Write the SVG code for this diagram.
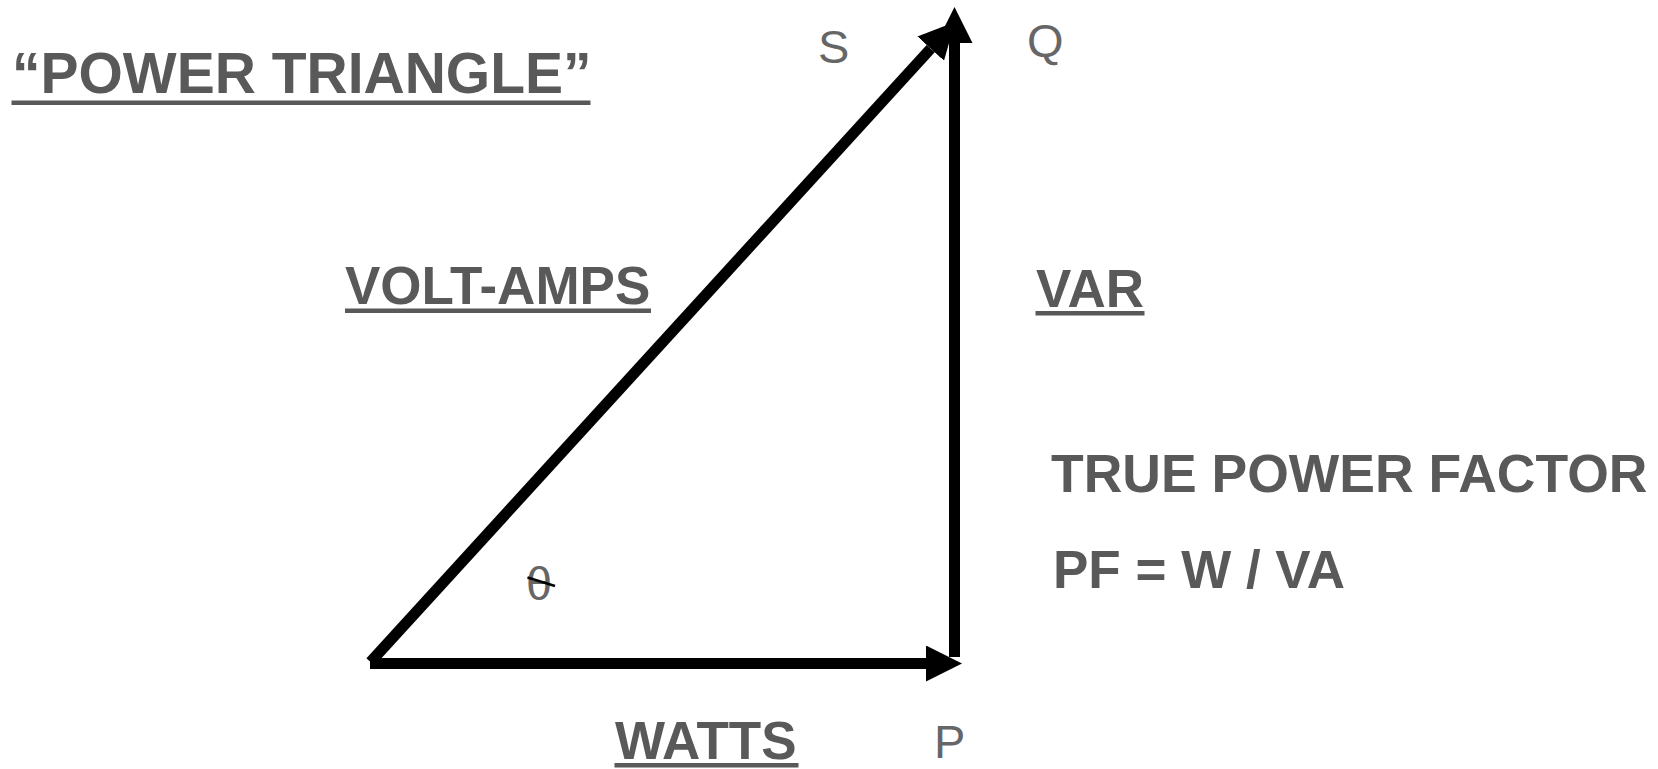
<svg xmlns="http://www.w3.org/2000/svg" width="1658" height="769" viewBox="0 0 1658 769">
  <defs>
    <style>
      .bold { font-family: "Liberation Sans", Arial, sans-serif; font-weight: bold; fill: #595959; }
      .reg { font-family: "Liberation Sans", Arial, sans-serif; font-weight: normal; fill: #666666; }
      .ul { fill: #595959; }
      .vec { stroke: #000; stroke-width: 11; fill: none; stroke-linecap: butt; }
    </style>
    <marker id="head" markerUnits="userSpaceOnUse" viewBox="0 0 36 36" markerWidth="36" markerHeight="36" refX="0" refY="18" orient="auto">
      <path d="M0,0 L36,18 L0,36 Z" fill="#000"/>
    </marker>
  </defs>
  <rect width="1658" height="769" fill="#fff"/>

  <g id="title">
    <text class="bold" x="12" y="93" font-size="57">“POWER TRIANGLE”</text>
    <rect class="ul" x="11.5" y="100.5" width="579" height="4.5"/>
  </g>

  <g id="connectors">
    <line id="watts-vec" class="vec" x1="370" y1="663.5" x2="926" y2="663.5" marker-end="url(#head)"/>
    <line id="va-vec" class="vec" x1="370.5" y1="662" x2="930.7" y2="48.6" marker-end="url(#head)"/>
    <line id="var-vec" class="vec" x1="954.5" y1="657" x2="954.5" y2="43" marker-end="url(#head)"/>
  </g>

  <g id="label-S"><text class="reg" x="818" y="63" font-size="47">S</text></g>
  <g id="label-Q"><text class="reg" x="1027" y="57" font-size="47">Q</text></g>
  <g id="label-P"><text class="reg" x="934" y="758" font-size="47">P</text></g>

  <g id="label-theta">
    <text class="reg" x="539" y="600" font-size="47" text-anchor="middle">θ</text>
    <line x1="527.5" y1="577.5" x2="555" y2="586" stroke="#000" stroke-width="2.5"/>
  </g>

  <g id="volt-amps">
    <text class="bold" x="345" y="303.5" font-size="53">VOLT-AMPS</text>
    <rect class="ul" x="345" y="308.5" width="306" height="4.5"/>
  </g>

  <g id="var">
    <text class="bold" x="1036" y="306.5" font-size="53">VAR</text>
    <rect class="ul" x="1035.5" y="311" width="109" height="4.5"/>
  </g>

  <g id="watts">
    <text class="bold" x="615" y="759" font-size="53">WATTS</text>
    <rect class="ul" x="614.5" y="763" width="184" height="4.5"/>
  </g>

  <g id="pf">
    <text class="bold" x="1051" y="491.5" font-size="53.5">TRUE POWER FACTOR</text>
    <text class="bold" x="1053" y="588" font-size="53">PF = W / VA</text>
  </g>
</svg>
